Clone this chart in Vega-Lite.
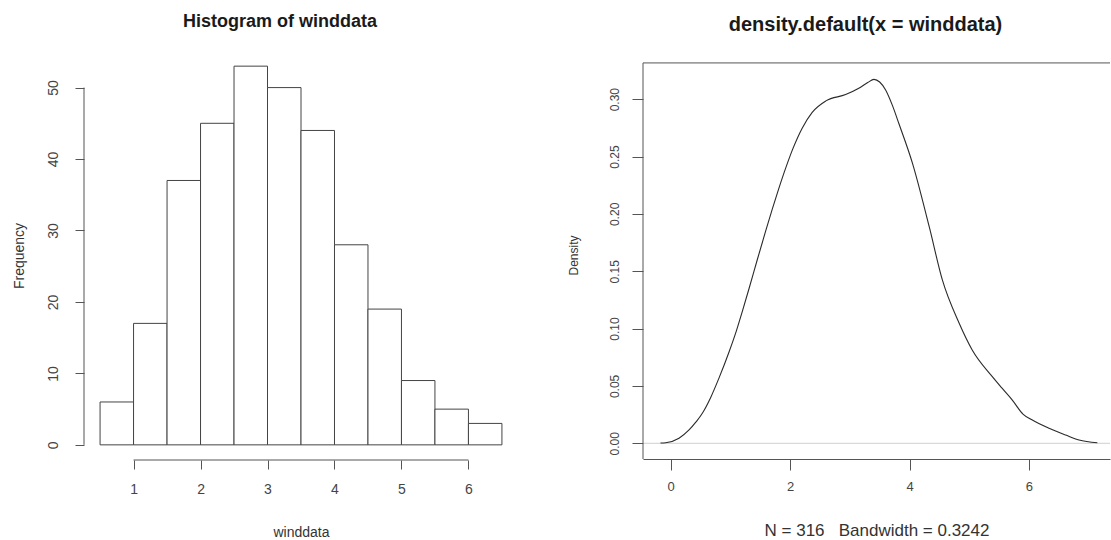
{
  "$schema": "https://vega.github.io/schema/vega-lite/v6.json",
  "background": "white",
  "padding": {"left": 11, "top": 13, "right": 0, "bottom": 0},
  "bounds": "flush",
  "spacing": 125,
  "config": {
    "view": {"stroke": null},
    "font": "Liberation Sans",
    "axis": {
      "grid": false,
      "domain": false,
      "tickColor": "#555",
      "tickWidth": 1,
      "labelColor": "#444",
      "labelFont": "Liberation Sans",
      "labelFontSize": 14,
      "titleColor": "#333",
      "titleFont": "Liberation Sans",
      "titleFontSize": 14,
      "titleFontWeight": "normal"
    },
    "title": {"font": "Liberation Sans", "fontWeight": "bold", "color": "#1a1a1a", "anchor": "middle"}
  },
  "datasets": {
    "hist": [
      {"start": 0.5, "end": 1.0, "count": 6},
      {"start": 1.0, "end": 1.5, "count": 17},
      {"start": 1.5, "end": 2.0, "count": 37},
      {"start": 2.0, "end": 2.5, "count": 45},
      {"start": 2.5, "end": 3.0, "count": 53},
      {"start": 3.0, "end": 3.5, "count": 50},
      {"start": 3.5, "end": 4.0, "count": 44},
      {"start": 4.0, "end": 4.5, "count": 28},
      {"start": 4.5, "end": 5.0, "count": 19},
      {"start": 5.0, "end": 5.5, "count": 9},
      {"start": 5.5, "end": 6.0, "count": 5},
      {"start": 6.0, "end": 6.5, "count": 3}
    ],
    "dens": [
      {"x": -0.171, "density": 0.0003},
      {"x": -0.084, "density": 0.0005},
      {"x": 0.139, "density": 0.0044},
      {"x": 0.307, "density": 0.0116},
      {"x": 0.424, "density": 0.0186},
      {"x": 0.53, "density": 0.0262},
      {"x": 0.67, "density": 0.04},
      {"x": 0.81, "density": 0.057},
      {"x": 0.98, "density": 0.08},
      {"x": 1.1, "density": 0.098},
      {"x": 1.2, "density": 0.115},
      {"x": 1.31, "density": 0.1345},
      {"x": 1.45, "density": 0.16},
      {"x": 1.59, "density": 0.185},
      {"x": 1.7, "density": 0.204},
      {"x": 1.81, "density": 0.222},
      {"x": 1.93, "density": 0.2405},
      {"x": 2.04, "density": 0.256},
      {"x": 2.2, "density": 0.2745},
      {"x": 2.37, "density": 0.2885},
      {"x": 2.6, "density": 0.2985},
      {"x": 2.93, "density": 0.304},
      {"x": 3.15, "density": 0.3095},
      {"x": 3.3, "density": 0.3145},
      {"x": 3.405, "density": 0.3173},
      {"x": 3.5, "density": 0.315},
      {"x": 3.6, "density": 0.308},
      {"x": 3.71, "density": 0.295},
      {"x": 3.82, "density": 0.279},
      {"x": 4.05, "density": 0.2441},
      {"x": 4.33, "density": 0.1888},
      {"x": 4.55, "density": 0.1424},
      {"x": 4.83, "density": 0.1049},
      {"x": 5.05, "density": 0.0814},
      {"x": 5.387, "density": 0.0581},
      {"x": 5.55, "density": 0.048},
      {"x": 5.722, "density": 0.0377},
      {"x": 5.9, "density": 0.0255},
      {"x": 6.05, "density": 0.0205},
      {"x": 6.337, "density": 0.0131},
      {"x": 6.616, "density": 0.0072},
      {"x": 6.839, "density": 0.0029},
      {"x": 7.146, "density": 0.0005}
    ],
    "one": [{}]
  },
  "hconcat": [
    {
      "title": {"text": "Histogram of winddata", "fontSize": 18, "dx": -21, "offset": 20},
      "width": 434,
      "height": 409,
      "layer": [
        {
          "data": {"name": "hist"},
          "mark": {"type": "rect", "fill": "white", "stroke": "#444", "strokeWidth": 1},
          "encoding": {
            "x": {
              "field": "start", "type": "quantitative",
              "scale": {"domain": [0.26, 6.74], "nice": false, "zero": false},
              "axis": {"values": [1, 2, 3, 4, 5, 6], "format": "d", "tickSize": 9, "labelPadding": 13, "title": "winddata", "titlePadding": 29}
            },
            "x2": {"field": "end"},
            "y": {
              "field": "count", "type": "quantitative",
              "scale": {"domain": [-2.12, 55.12], "nice": false, "zero": false},
              "axis": {"values": [0, 10, 20, 30, 40, 50], "format": "d", "tickSize": 9, "labelAngle": -90, "labelPadding": 15, "title": "Frequency", "titlePadding": 20}
            },
            "y2": {"datum": 0}
          }
        },
        {
          "data": {"name": "one"},
          "mark": {"type": "rule", "stroke": "#555", "strokeWidth": 1},
          "encoding": {
            "x": {"datum": 0.26, "type": "quantitative"},
            "y": {"datum": 0, "type": "quantitative"},
            "y2": {"datum": 50}
          }
        },
        {
          "data": {"name": "one"},
          "mark": {"type": "rule", "stroke": "#555", "strokeWidth": 1},
          "encoding": {
            "y": {"datum": -2.12, "type": "quantitative"},
            "x": {"datum": 1, "type": "quantitative"},
            "x2": {"datum": 6}
          }
        }
      ]
    },
    {
      "title": {"text": "density.default(x = winddata)", "fontSize": 20, "dx": -11, "offset": 16},
      "width": 467,
      "height": 408,
      "layer": [
        {
          "data": {"name": "one"},
          "mark": {"type": "rule", "stroke": "#cfcfcf", "strokeWidth": 1},
          "encoding": {"y": {"datum": 0, "type": "quantitative"}}
        },
        {
          "data": {"name": "dens"},
          "mark": {"type": "line", "stroke": "#2a2a2a", "strokeWidth": 1.1, "interpolate": "monotone"},
          "encoding": {
            "x": {
              "field": "x", "type": "quantitative",
              "scale": {"domain": [-0.464, 7.358], "nice": false, "zero": false},
              "axis": {"values": [0, 2, 4, 6], "format": "d", "domain": true, "domainColor": "#555", "tickSize": 11, "labelFontSize": 13, "labelPadding": 10, "title": "N = 316\u00a0\u00a0 Bandwidth = 0.3242", "titleFontSize": 17, "titlePadding": 29}
            },
            "y": {
              "field": "density", "type": "quantitative",
              "scale": {"domain": [-0.0137, 0.342], "nice": false, "zero": false},
              "axis": {"values": [0, 0.05, 0.1, 0.15, 0.2, 0.25, 0.3], "format": ".2f", "tickSize": 11, "labelAngle": -90, "labelFontSize": 12, "labelPadding": 11, "title": "Density", "titleFontSize": 12, "titlePadding": 28}
            }
          }
        },
        {
          "data": {"name": "one"},
          "mark": {"type": "rule", "stroke": "#555", "strokeWidth": 1},
          "encoding": {
            "x": {"datum": -0.464, "type": "quantitative"},
            "y": {"datum": -0.0137, "type": "quantitative"},
            "y2": {"datum": 0.3316}
          }
        },
        {
          "data": {"name": "one"},
          "mark": {"type": "rule", "stroke": "#555", "strokeWidth": 1},
          "encoding": {
            "y": {"datum": 0.3316, "type": "quantitative"},
            "x": {"datum": -0.464, "type": "quantitative"},
            "x2": {"datum": 7.358}
          }
        }
      ]
    }
  ]
}
